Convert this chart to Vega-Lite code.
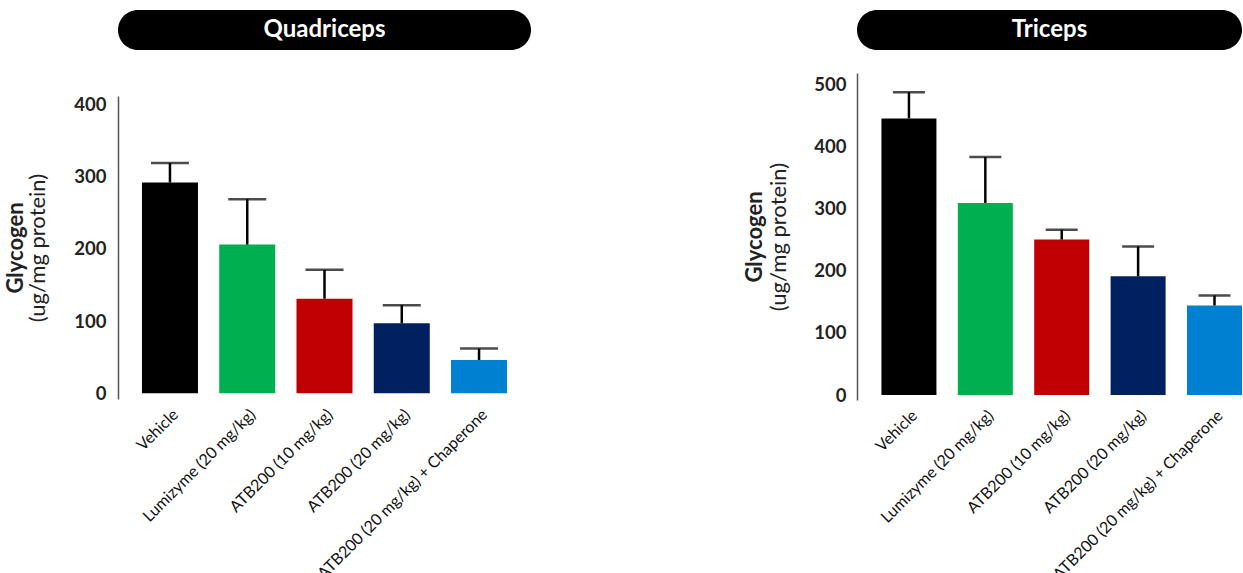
{
  "$schema": "https://vega.github.io/schema/vega-lite/v6.json",
  "background": "white",
  "padding": {"left": 4, "top": 10, "right": 0, "bottom": 0},
  "config": {"view": {"stroke": null}, "font": "Lato", "axis": {"grid": false}},
  "data": {"values": [
    {"muscle": "Quadriceps", "group": "Vehicle", "value": 292, "upper": 319},
    {"muscle": "Quadriceps", "group": "Lumizyme (20 mg/kg)", "value": 206, "upper": 269},
    {"muscle": "Quadriceps", "group": "ATB200 (10 mg/kg)", "value": 131, "upper": 171},
    {"muscle": "Quadriceps", "group": "ATB200 (20 mg/kg)", "value": 97, "upper": 122},
    {"muscle": "Quadriceps", "group": "ATB200 (20 mg/kg) + Chaperone", "value": 46, "upper": 62},
    {"muscle": "Triceps", "group": "Vehicle", "value": 445, "upper": 487},
    {"muscle": "Triceps", "group": "Lumizyme (20 mg/kg)", "value": 309, "upper": 383},
    {"muscle": "Triceps", "group": "ATB200 (10 mg/kg)", "value": 250, "upper": 266},
    {"muscle": "Triceps", "group": "ATB200 (20 mg/kg)", "value": 191, "upper": 239},
    {"muscle": "Triceps", "group": "ATB200 (20 mg/kg) + Chaperone", "value": 144, "upper": 160}
  ]},
  "spacing": 212,
  "hconcat": [
    {
      "spacing": 45,
      "vconcat": [
        {
          "width": 413, "height": 40,
          "transform": [{"filter": "datum.muscle === 'Quadriceps'"}, {"aggregate": [{"op": "count", "as": "n"}], "groupby": ["muscle"]}],
          "layer": [
            {"mark": {"type": "rect", "color": "black", "cornerRadius": 20}, "encoding": {}},
            {"mark": {"type": "text", "color": "white", "fontSize": 24, "fontWeight": "bold", "font": "Lato"}, "encoding": {"text": {"field": "muscle"}}}
          ]
        },
        {
          "width": 413, "height": 303,
          "transform": [{"filter": "datum.muscle === 'Quadriceps'"}],
          "encoding": {
            "x": {"field": "group", "type": "nominal", "sort": null,
              "scale": {"paddingInner": 0.275, "paddingOuter": 0.31},
              "axis": {"title": null, "labelAngle": -45, "domain": false, "ticks": false, "labelFontSize": 16, "labelColor": "#111", "labelPadding": 7, "labelLimit": 400}}
          },
          "layer": [
            {"mark": {"type": "bar"},
             "encoding": {
               "y": {"field": "value", "type": "quantitative", "scale": {"domain": [-8, 412], "nice": false},
                 "axis": {"values": [0, 100, 200, 300, 400], "title": "(ug/mg protein)", "titleFontWeight": "normal", "titleFontSize": 22, "titlePadding": 24, "titleColor": "#222", "labelFontSize": 18.5, "labelFontWeight": "bold", "labelPadding": 12, "labelColor": "#222", "ticks": false, "domainColor": "#555", "domainWidth": 1.5}},
               "color": {"field": "group", "type": "nominal", "sort": null, "legend": null,
                 "scale": {"domain": ["Vehicle", "Lumizyme (20 mg/kg)", "ATB200 (10 mg/kg)", "ATB200 (20 mg/kg)", "ATB200 (20 mg/kg) + Chaperone"], "range": ["#000000", "#00b050", "#c00000", "#002060", "#0080d0"]}}
             }},
            {"mark": {"type": "rule", "color": "black", "strokeWidth": 2.5},
             "encoding": {
               "y": {"field": "value", "type": "quantitative", "scale": {"domain": [-8, 412], "nice": false},
                 "axis": {"orient": "left", "labels": false, "ticks": false, "domain": false, "title": "Glycogen", "titleFontWeight": "bold", "titleFontSize": 22, "titlePadding": 91, "titleColor": "#222"}},
               "y2": {"field": "upper"}
             }},
            {"mark": {"type": "tick", "color": "black", "thickness": 2.5, "size": 38},
             "encoding": {"y": {"field": "upper", "type": "quantitative", "scale": {"domain": [-8, 412], "nice": false}, "axis": null}}}
          ],
          "resolve": {"axis": {"y": "independent"}}
        }
      ]
    },
    {
      "spacing": 23,
      "vconcat": [
        {
          "width": 385, "height": 40,
          "transform": [{"filter": "datum.muscle === 'Triceps'"}, {"aggregate": [{"op": "count", "as": "n"}], "groupby": ["muscle"]}],
          "layer": [
            {"mark": {"type": "rect", "color": "black", "cornerRadius": 20}, "encoding": {}},
            {"mark": {"type": "text", "color": "white", "fontSize": 24, "fontWeight": "bold", "font": "Lato"}, "encoding": {"text": {"field": "muscle"}}}
          ]
        },
        {
          "width": 385, "height": 327,
          "transform": [{"filter": "datum.muscle === 'Triceps'"}],
          "encoding": {
            "x": {"field": "group", "type": "nominal", "sort": null,
              "scale": {"paddingInner": 0.28, "paddingOuter": 0.16, "align": 1},
              "axis": {"title": null, "labelAngle": -45, "domain": false, "ticks": false, "labelFontSize": 16, "labelColor": "#111", "labelPadding": 7, "labelLimit": 400}}
          },
          "layer": [
            {"mark": {"type": "bar"},
             "encoding": {
               "y": {"field": "value", "type": "quantitative", "scale": {"domain": [-8, 518], "nice": false},
                 "axis": {"values": [0, 100, 200, 300, 400, 500], "title": "(ug/mg protein)", "titleFontWeight": "normal", "titleFontSize": 22, "titlePadding": 23, "titleColor": "#222", "labelFontSize": 18.5, "labelFontWeight": "bold", "labelPadding": 11, "labelColor": "#222", "ticks": false, "domainColor": "#555", "domainWidth": 1.5}},
               "color": {"field": "group", "type": "nominal", "sort": null, "legend": null,
                 "scale": {"domain": ["Vehicle", "Lumizyme (20 mg/kg)", "ATB200 (10 mg/kg)", "ATB200 (20 mg/kg)", "ATB200 (20 mg/kg) + Chaperone"], "range": ["#000000", "#00b050", "#c00000", "#002060", "#0080d0"]}}
             }},
            {"mark": {"type": "rule", "color": "black", "strokeWidth": 2.5},
             "encoding": {
               "y": {"field": "value", "type": "quantitative", "scale": {"domain": [-8, 518], "nice": false},
                 "axis": {"orient": "left", "labels": false, "ticks": false, "domain": false, "title": "Glycogen", "titleFontWeight": "bold", "titleFontSize": 22, "titlePadding": 91, "titleColor": "#222"}},
               "y2": {"field": "upper"}
             }},
            {"mark": {"type": "tick", "color": "black", "thickness": 2.5, "size": 32},
             "encoding": {"y": {"field": "upper", "type": "quantitative", "scale": {"domain": [-8, 518], "nice": false}, "axis": null}}}
          ],
          "resolve": {"axis": {"y": "independent"}}
        }
      ]
    }
  ]
}
